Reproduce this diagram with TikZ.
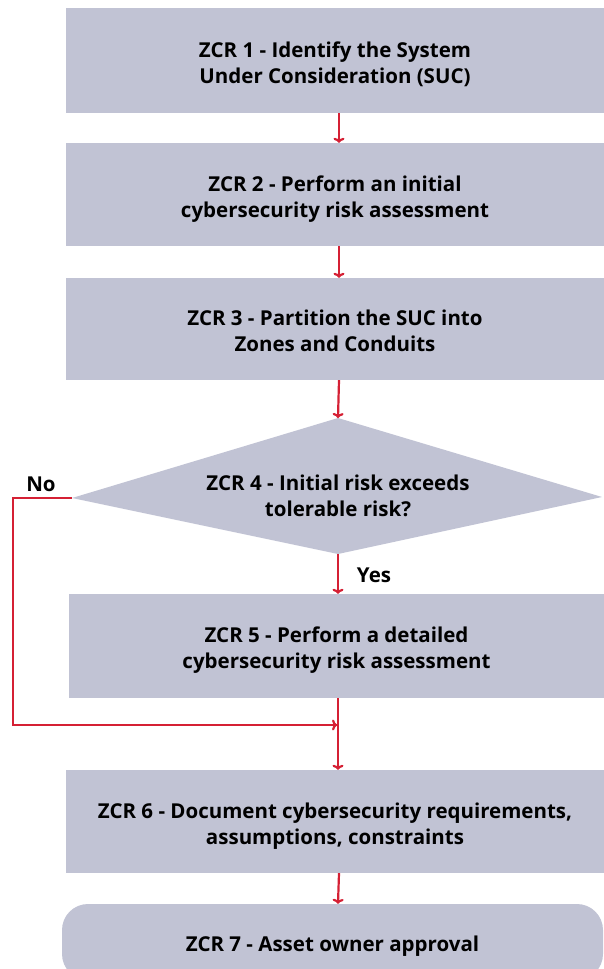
\documentclass[tikz,border=0pt]{standalone}
\usepackage{fontspec}
\setmainfont{Open Sans}
\usetikzlibrary{arrows.meta}
\definecolor{boxfill}{RGB}{193,195,212}
\definecolor{arrred}{RGB}{213,32,52}
\tikzset{
  stepbox/.style={fill=boxfill, inner sep=0pt, align=center, minimum width=538pt,
    text height=45pt, text depth=0pt, font=\bfseries\fontsize{20.5}{26}\selectfont},
  endbox/.style={stepbox, rounded corners=26pt, text height=18pt},
  lbl/.style={inner sep=0pt, font=\bfseries\fontsize{20.5}{26}\selectfont},
  arr/.style={draw=arrred, line width=2.2pt, -{To[length=5pt,width=11pt]}},
  conn/.style={draw=arrred, line width=2.2pt},
}
\begin{document}
\begin{tikzpicture}[x=1pt,y=-1pt]
\useasboundingbox (0,0) rectangle (604,969);
\clip (0,0) rectangle (604,969);
\node[stepbox, minimum height=105pt] (b1) at (335,60.5) {ZCR 1 - Identify the System\\Under Consideration (SUC)};
\node[stepbox, minimum height=103pt] (b2) at (335,194.5) {ZCR 2 - Perform an initial\\cybersecurity risk assessment};
\node[stepbox, minimum height=102pt] (b3) at (335,329) {ZCR 3 - Partition the SUC into\\Zones and Conduits};
% decision (asymmetric diamond)
\coordinate (dl) at (72,498);
\coordinate (dt) at (338,418);
\coordinate (dr) at (602,497);
\coordinate (db) at (338,554);
\fill[boxfill] (dl) -- (dt) -- (dr) -- (db) -- cycle;
\node[lbl, align=center] (d4) at (338,496) {ZCR 4 - Initial risk exceeds\\tolerable risk?};
\node[stepbox, minimum width=535pt, minimum height=104pt] (b5) at (336.5,646) {ZCR 5 - Perform a detailed\\cybersecurity risk assessment};
\node[stepbox, minimum height=103pt] (b6) at (335,821.5) {ZCR 6 - Document cybersecurity requirements,\\assumptions, constraints};
\node[endbox, minimum width=541pt, minimum height=76pt] (b7) at (332.5,942) {ZCR 7 - Asset owner approval};
% labels
\node[lbl] (no) at (41,484) {No};
\node[lbl] (yes) at (374,575) {Yes};
% junction
\coordinate (lc) at (13,498);
\coordinate (j) at (337,725);
% connectors
\draw[arr] ([xshift=4pt]b1.south) -- ([xshift=4pt]b2.north);
\draw[arr] ([xshift=4pt]b2.south) -- ([xshift=4pt]b3.north);
\draw[arr] ([xshift=4pt]b3.south) -- (dt);
\draw[arr] (db) -- (b5.north -| db);
\draw[arr] (b5.south -| db) -- (b6.north -| db);
\draw[conn] (dl) -- (lc) |- (j);
\draw[arr] (lc |- j) -- (j);
\draw[arr] ([xshift=4pt]b6.south) -- (b7.north -| db);
\end{tikzpicture}
\end{document}
